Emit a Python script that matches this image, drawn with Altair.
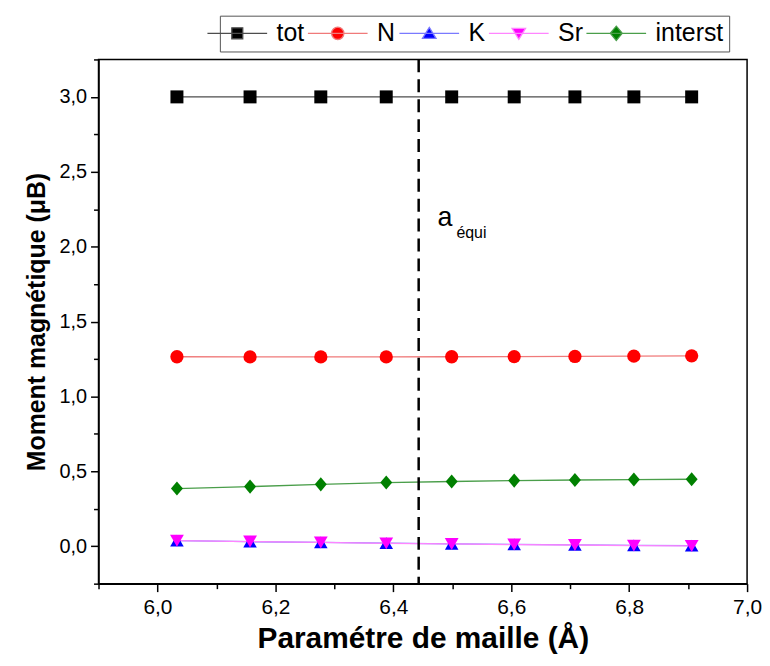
import altair as alt
import pandas as pd

# ---- data ----
a_param = [6.033, 6.157, 6.277, 6.388, 6.499, 6.605, 6.708, 6.808, 6.906]
tot = [3.0, 3.0, 3.0, 3.0, 3.0, 3.0, 3.0, 3.0, 3.0]
N = [1.265, 1.264, 1.264, 1.264, 1.265, 1.266, 1.267, 1.269, 1.271]
K = [0.037, 0.030, 0.025, 0.020, 0.015, 0.012, 0.009, 0.006, 0.004]
Sr = [0.037, 0.031, 0.025, 0.019, 0.015, 0.011, 0.008, 0.004, 0.002]
interst = [0.385, 0.398, 0.413, 0.425, 0.432, 0.438, 0.442, 0.445, 0.447]

series_names = ["tot", "N", "K", "Sr", "interst"]
series_vals = [tot, N, K, Sr, interst]

a_equi = [6.443]
annot_main = {"x": [6.475], "y": [2.14], "t": ["a"]}
annot_sub = {"x": [6.507], "y": [2.055], "t": ["équi"]}

x_major = [6.0, 6.2, 6.4, 6.6, 6.8, 7.0]
x_minor = [5.9, 6.1, 6.3, 6.5, 6.7, 6.9]
y_major = [0.0, 0.5, 1.0, 1.5, 2.0, 2.5, 3.0]
y_minor = [-0.25, 0.25, 0.75, 1.25, 1.75, 2.25, 2.75, 3.25]

marker_colors = ["#000000", "#ff0000", "#0000ff", "#ff00ff", "#008000"]
line_colors = ["#4d4d4d", "#f07a7a", "#7a7aff", "#ff85ff", "#4a9e4a"]
marker_sizes = [170, 200, 210, 210, 260]

rows = []
for name, vals in zip(series_names, series_vals):
    for a, v in zip(a_param, vals):
        rows.append({"a": a, "value": v, "series": name})
df = pd.DataFrame(rows)

FONT = "Liberation Sans"
xdom = alt.Scale(domain=[5.9, 7.0], nice=False, zero=False)
ydom = alt.Scale(domain=[-0.25, 3.25], nice=False, zero=False)
comma = "replace(format(datum.value, '.1f'), '.', ',')"

x_axis = alt.Axis(values=x_major, labelExpr=comma, tickSize=8, labelFontSize=21,
                  labelPadding=5, labelFlush=False, title="Paramétre de maille (Å)",
                  titleFontSize=30, titleFontWeight="bold", titlePadding=6, grid=False,
                  orient="bottom")
y_axis = alt.Axis(values=y_major, labelExpr=comma, tickSize=8, labelFontSize=20,
                  labelPadding=4, labelFlush=False, title="Moment magnétique (μB)",
                  titleFontSize=25, titleFontWeight="bold", titlePadding=10, grid=False,
                  orient="left")

base = alt.Chart(df)

lines = base.mark_line(strokeWidth=1.3).encode(
    x=alt.X("a:Q", scale=xdom, axis=x_axis),
    y=alt.Y("value:Q", scale=ydom, axis=y_axis),
    stroke=alt.Stroke("series:N", scale=alt.Scale(domain=series_names, range=line_colors), legend=None),
    detail="series:N",
)

marker_paths = [
    "square",
    "circle",
    "triangle-up",
    "triangle-down",
    "M0,-1L0.85,0L0,1L-0.85,0Z",
]
points = base.mark_point(filled=True, opacity=1).encode(
    x=alt.X("a:Q", scale=xdom, axis=None),
    y=alt.Y("value:Q", scale=ydom, axis=None),
    fill=alt.Fill("series:N", scale=alt.Scale(domain=series_names, range=marker_colors), legend=None),
    shape=alt.Shape("series:N", scale=alt.Scale(domain=series_names, range=marker_paths), legend=None),
    size=alt.Size("series:N", scale=alt.Scale(domain=series_names, range=marker_sizes), legend=None),
)

legend_paths = [
    "M-3,0H3M-0.55,-0.55H0.55V0.55H-0.55Z",
    "M-3,0H3M0.62,0A0.62,0.62,0,1,1,-0.62,0A0.62,0.62,0,1,1,0.62,0Z",
    "M-3,0H3M0,-0.6L0.68,0.5H-0.68Z",
    "M-3,0H3M0,0.6L0.68,-0.5H-0.68Z",
    "M-3,0H3M0,-0.72L0.6,0L0,0.72L-0.6,0Z",
]
leg = alt.Legend(orient="none", legendX=122, legendY=-44, direction="horizontal", title=None,
                 symbolSize=400, symbolStrokeWidth=1.3, symbolOpacity=1,
                 labelFontSize=25, labelFont=FONT, labelColor="black", labelOffset=27,
                 columnPadding=0, strokeColor="#555555", padding=5, fillColor="white")
legend_layer = base.mark_point(filled=True, opacity=0, size=400).encode(
    x=alt.X("a:Q", scale=xdom, axis=None),
    y=alt.Y("value:Q", scale=ydom, axis=None),
    shape=alt.Shape("series:N", scale=alt.Scale(domain=series_names, range=legend_paths), legend=leg, sort=series_names),
    fill=alt.Fill("series:N", scale=alt.Scale(domain=series_names, range=marker_colors), legend=leg, sort=series_names),
    stroke=alt.Stroke("series:N", scale=alt.Scale(domain=series_names, range=line_colors), legend=leg, sort=series_names),
)

rule = alt.Chart(pd.DataFrame({"a": a_equi})).mark_rule(
    color="black", strokeWidth=2.5, strokeDash=[13, 7]
).encode(x=alt.X("a:Q", scale=xdom, axis=None))

txt_a = alt.Chart(pd.DataFrame(annot_main)).mark_text(
    align="left", baseline="alphabetic", fontSize=27, font=FONT, color="black"
).encode(x=alt.X("x:Q", scale=xdom, axis=None), y=alt.Y("y:Q", scale=ydom, axis=None), text="t:N")

txt_sub = alt.Chart(pd.DataFrame(annot_sub)).mark_text(
    align="left", baseline="alphabetic", fontSize=16, font=FONT, color="black"
).encode(x=alt.X("x:Q", scale=xdom, axis=None), y=alt.Y("y:Q", scale=ydom, axis=None), text="t:N")

minor = base.mark_point(opacity=0).encode(
    x=alt.X("a:Q", scale=xdom, axis=alt.Axis(orient="bottom", values=x_minor, tickSize=5,
                                             labels=False, domain=False, title=None, grid=False)),
    y=alt.Y("value:Q", scale=ydom, axis=alt.Axis(orient="left", values=y_minor, tickSize=5,
                                                 labels=False, domain=False, title=None, grid=False)),
)

chart = alt.layer(lines, points, legend_layer, rule, txt_a, txt_sub, minor).resolve_scale(
    shape="independent", fill="independent", stroke="independent", size="independent"
).resolve_axis(x="independent", y="independent").properties(
    width=652, height=527, padding={"left": 16, "top": 5, "right": 0, "bottom": 0}
).configure_view(stroke="black", strokeWidth=1.5).configure_axis(
    domainColor="black", domainWidth=1.5, tickColor="black", tickWidth=1.5,
    labelColor="black", titleColor="black", labelFont=FONT, titleFont=FONT
)

chart.save("out.html", embed_options={"renderer": "svg", "actions": False})
